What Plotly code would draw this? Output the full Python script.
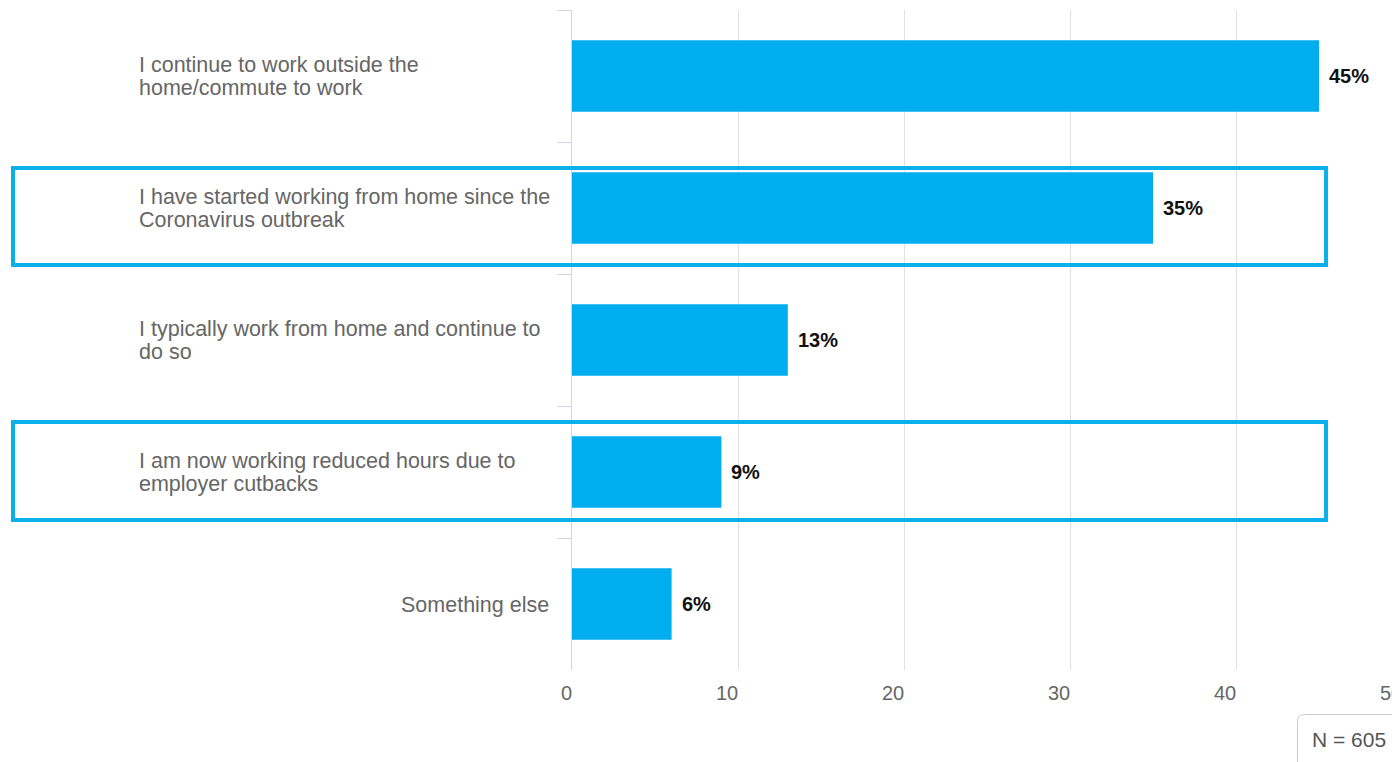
import plotly.graph_objects as go

# Survey answers (top to bottom) and share of respondents, in percent
categories = [
    "I continue to work outside the<br>home/commute to work",
    "I have started working from home since the<br>Coronavirus outbreak",
    "I typically work from home and continue to<br>do so",
    "I am now working reduced hours due to<br>employer cutbacks",
    "Something else",
]
shares = [45, 35, 13, 9, 6]
x_ticks = [0, 10, 20, 30, 40, 50]
highlighted = [1, 3]
sample_note = "N = 605"

# Layout geometry (pixels)
W, H = 1392, 762
ML, MR, MT, MB = 572, 0, 10, 92
PX_PER_UNIT = 16.6
X_MAX = (W - ML - MR) / PX_PER_UNIT
PLOT_W = W - ML - MR
PLOT_H = H - MT - MB
N_CAT = len(categories)

BAR_BLUE = "#00AEEF"
BOX_BLUE = "#0AB0EC"
AXIS_COL = "#ccd6eb"
GRID_COL = "#e0e0e0"
LABEL_COL = "#666666"
FONT = "Liberation Sans, Arial, sans-serif"

fig = go.Figure(
    go.Bar(
        x=shares,
        y=categories,
        orientation="h",
        marker=dict(color=BAR_BLUE, line=dict(width=0)),
        width=0.54,
        hoverinfo="skip",
    )
)

annotations = []

# Category labels: wrapped lines share a left edge, single lines hug the axis
LINE_GAP = 23
for cat in categories:
    lines = cat.split("<br>")
    if len(lines) == 1:
        annotations.append(dict(
            x=0, xref="paper", xanchor="right", xshift=-21,
            y=cat, yref="y", yanchor="middle", yshift=-1,
            text=lines[0], showarrow=False,
            font=dict(family=FONT, size=21.5, color=LABEL_COL),
        ))
    else:
        for k, line in enumerate(lines):
            annotations.append(dict(
                x=0, xref="paper", xanchor="left", xshift=-(ML - 137),
                y=cat, yref="y", yanchor="middle",
                yshift=LINE_GAP * ((len(lines) - 1) / 2 - k),
                text=line, showarrow=False,
                font=dict(family=FONT, size=21.5, color=LABEL_COL),
            ))

# Value labels at the bar ends
for cat, v in zip(categories, shares):
    annotations.append(dict(
        x=v, xref="x", xanchor="left", xshift=8,
        y=cat, yref="y", yanchor="middle",
        text=f"<b>{v}%</b>", showarrow=False,
        font=dict(family=FONT, size=20, color="#111111"),
    ))

# X tick labels, right-aligned to each gridline
for t in x_ticks:
    annotations.append(dict(
        x=t / X_MAX, xref="paper", xanchor="right", xshift=2,
        y=0, yref="paper", yanchor="middle", yshift=-23,
        text=str(t), showarrow=False,
        font=dict(family=FONT, size=20, color=LABEL_COL),
    ))

# Sample size note
annotations.append(dict(
    x=(1310 - ML) / PLOT_W, xref="paper", xanchor="left",
    y=1 - (740 - MT) / PLOT_H, yref="paper", yanchor="middle",
    text=sample_note, showarrow=False,
    font=dict(family=FONT, size=21, color="#555555"),
))

shapes = []


def cat_to_paper(pos):
    return 1 - (pos + 0.5) / N_CAT


# Highlight frames around selected answers
frame_extent = {1: (-0.303, 0.432), 3: (-0.379, 0.364)}
for idx in highlighted:
    top, bottom = frame_extent[idx]
    shapes.append(dict(
        type="rect", xref="paper", yref="paper",
        x0=(13 - ML) / PLOT_W, x1=(1326 - ML) / PLOT_W,
        y0=cat_to_paper(idx + bottom), y1=cat_to_paper(idx + top),
        line=dict(color=BOX_BLUE, width=4),
        fillcolor="rgba(0,0,0,0)", layer="above",
    ))

# Rounded box behind the sample-size note
bx0 = (1297.5 - ML) / PLOT_W
by0 = 1 - (714.5 - MT) / PLOT_H
bx1 = (1420 - ML) / PLOT_W
by1 = 1 - (790 - MT) / PLOT_H
rx = 7 / PLOT_W
ry = 7 / PLOT_H
shapes.append(dict(
    type="path", xref="paper", yref="paper",
    path=(f"M {bx0} {by1} L {bx0} {by0 - ry} Q {bx0} {by0} {bx0 + rx} {by0} "
          f"L {bx1} {by0}"),
    line=dict(color="#cccccc", width=1),
))

fig.update_layout(
    width=W, height=H,
    margin=dict(l=ML, r=MR, t=MT, b=MB, pad=0),
    paper_bgcolor="white", plot_bgcolor="white",
    showlegend=False,
    bargap=0.46,
    font=dict(family=FONT, color=LABEL_COL),
    xaxis=dict(
        range=[0, X_MAX], tickvals=x_ticks, showticklabels=False,
        showgrid=True, gridcolor=GRID_COL, gridwidth=1,
        zeroline=False, showline=False, ticks="", fixedrange=True,
    ),
    yaxis=dict(
        type="category", categoryorder="array", categoryarray=categories,
        autorange="reversed", showticklabels=False, showgrid=False,
        showline=True, linecolor=AXIS_COL, linewidth=1,
        ticks="outside", tickson="boundaries", ticklen=14,
        tickcolor=AXIS_COL, tickwidth=1, zeroline=False, fixedrange=True,
    ),
    annotations=annotations,
    shapes=shapes,
)

fig.write_html("out.html", config={"displayModeBar": False})
